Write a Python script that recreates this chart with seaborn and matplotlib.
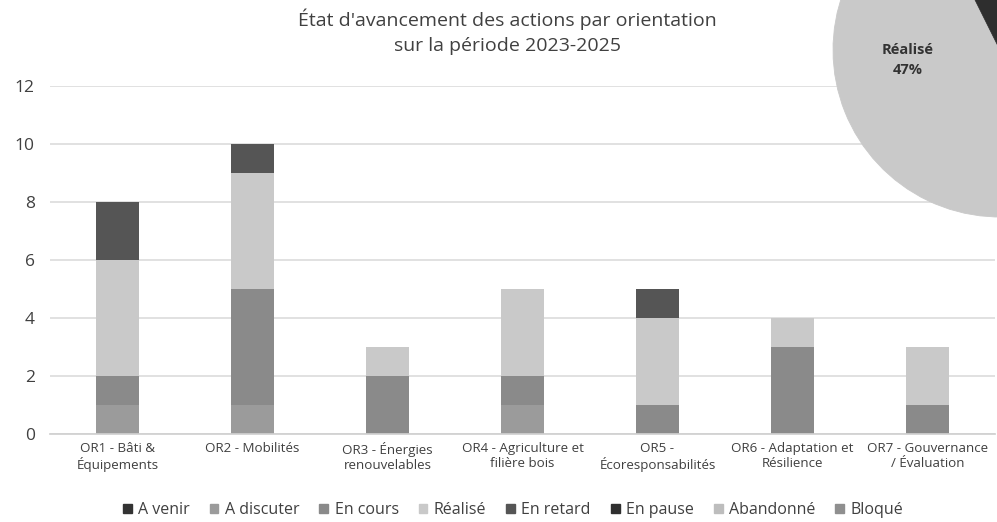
import matplotlib
matplotlib.use("Agg")
import matplotlib.pyplot as plt
import seaborn as sns
import pandas as pd
import numpy as np

# ---- data ----
categories = ["OR1 - Bâti &\nÉquipements", "OR2 - Mobilités", "OR3 - Énergies\nrenouvelables",
              "OR4 - Agriculture et\nfilière bois", "OR5 -\nÉcoresponsabilités",
              "OR6 - Adaptation et\nRésilience", "OR7 - Gouvernance\n/ Évaluation"]
statuses = ["A venir", "A discuter", "En cours", "Réalisé", "En retard", "En pause", "Abandonné", "Bloqué"]
a_venir    = [0, 0, 0, 0, 0, 0, 0]
a_discuter = [1, 1, 0, 1, 0, 0, 0]
en_cours   = [1, 4, 2, 1, 1, 3, 1]
realise    = [4, 4, 1, 3, 3, 1, 2]
en_retard  = [2, 1, 0, 0, 1, 0, 0]
en_pause   = [0, 0, 0, 0, 0, 0, 0]
abandonne  = [0, 0, 0, 0, 0, 0, 0]
bloque     = [0, 0, 0, 0, 0, 0, 0]
yticks = [0, 2, 4, 6, 8, 10, 12]
title = "État d'avancement des actions par orientation\nsur la période 2023-2025"
# order of the aggregate pie, clockwise
pie_order = ["Réalisé", "En retard", "A discuter", "En cours"]

series = [a_venir, a_discuter, en_cours, realise, en_retard, en_pause, abandonne, bloque]
colors = ["#333333", "#9b9b9b", "#8a8a8a", "#c9c9c9", "#555555", "#2f2f2f", "#bdbdbd", "#8f8f8f"]

sns.set_theme(style="white")
plt.rcParams["font.family"] = ["Open Sans", "DejaVu Sans"]

fig = plt.figure(figsize=(9.97, 5.22), dpi=100)
ax = fig.add_axes([50/997, 1-434/522, 945/997, (434-86)/522])

df = pd.DataFrame({"cat": categories})
bottom = np.zeros(len(categories))
handles = []
for name, vals, col in zip(statuses, series, colors):
    df["v"] = vals
    sns.barplot(data=df, x="cat", y="v", bottom=bottom, color=col, width=0.32,
                linewidth=0, ax=ax, order=categories)
    bottom = bottom + np.array(vals)
    handles.append(plt.Rectangle((0, 0), 1, 1, color=col))

ax.set_ylim(0, 12)
ax.set_xlim(-0.5, len(categories) - 0.5)
ax.set_yticks(yticks)
ax.yaxis.grid(True, color="#d9d9d9", linewidth=1.1)
ax.set_axisbelow(True)
for s in ["top", "right", "left"]:
    ax.spines[s].set_visible(False)
ax.spines["bottom"].set_color("#d0d0d0")
ax.set_xlabel("")
ax.set_ylabel("")
ax.tick_params(axis="y", length=0, pad=11, labelsize=12.5, labelcolor="#404040")
ax.tick_params(axis="x", length=0, pad=6, labelsize=9.6, labelcolor="#404040")
for lab in ax.get_xticklabels():
    lab.set_linespacing(1.15)

fig.text(0.509, 1 - 32/522, title, ha="center", va="center", fontsize=14,
         color="#404040", linespacing=1.5)

fig.legend(handles, statuses, loc="center", bbox_to_anchor=(513/997, 1 - 510/522), ncol=8,
           frameon=False, handlelength=0.55, handleheight=0.55, handletextpad=0.4,
           columnspacing=1.25, fontsize=11.5, labelcolor="#404040")

# ---- aggregate pie, partly outside the figure ----
totals = {n: sum(s) for n, s in zip(statuses, series)}
col_of = dict(zip(statuses, colors))
pie_vals = [totals[n] for n in pie_order]
pie_cols = [col_of[n] for n in pie_order]
pie_cols[1] = "#2e2e2e"
pax = fig.add_axes([833/997, 1-217/522, 334/997, 334/522])
wedges, _ = pax.pie(pie_vals, colors=pie_cols, startangle=287, counterclock=False,
                    wedgeprops=dict(linewidth=0.6))
for w in wedges:
    w.set_edgecolor(w.get_facecolor())
pax.set_xlim(-1, 1)
pax.set_ylim(-1, 1)
pax.set_aspect("equal")
pct = round(100 * totals["Réalisé"] / sum(totals.values()))
fig.text(908/997, 1 - 60/522, f"Réalisé\n{pct}%", ha="center", va="center",
         fontsize=10.5, fontweight="bold", color="#333333", linespacing=1.5)

fig.savefig("out.png", dpi=100)
